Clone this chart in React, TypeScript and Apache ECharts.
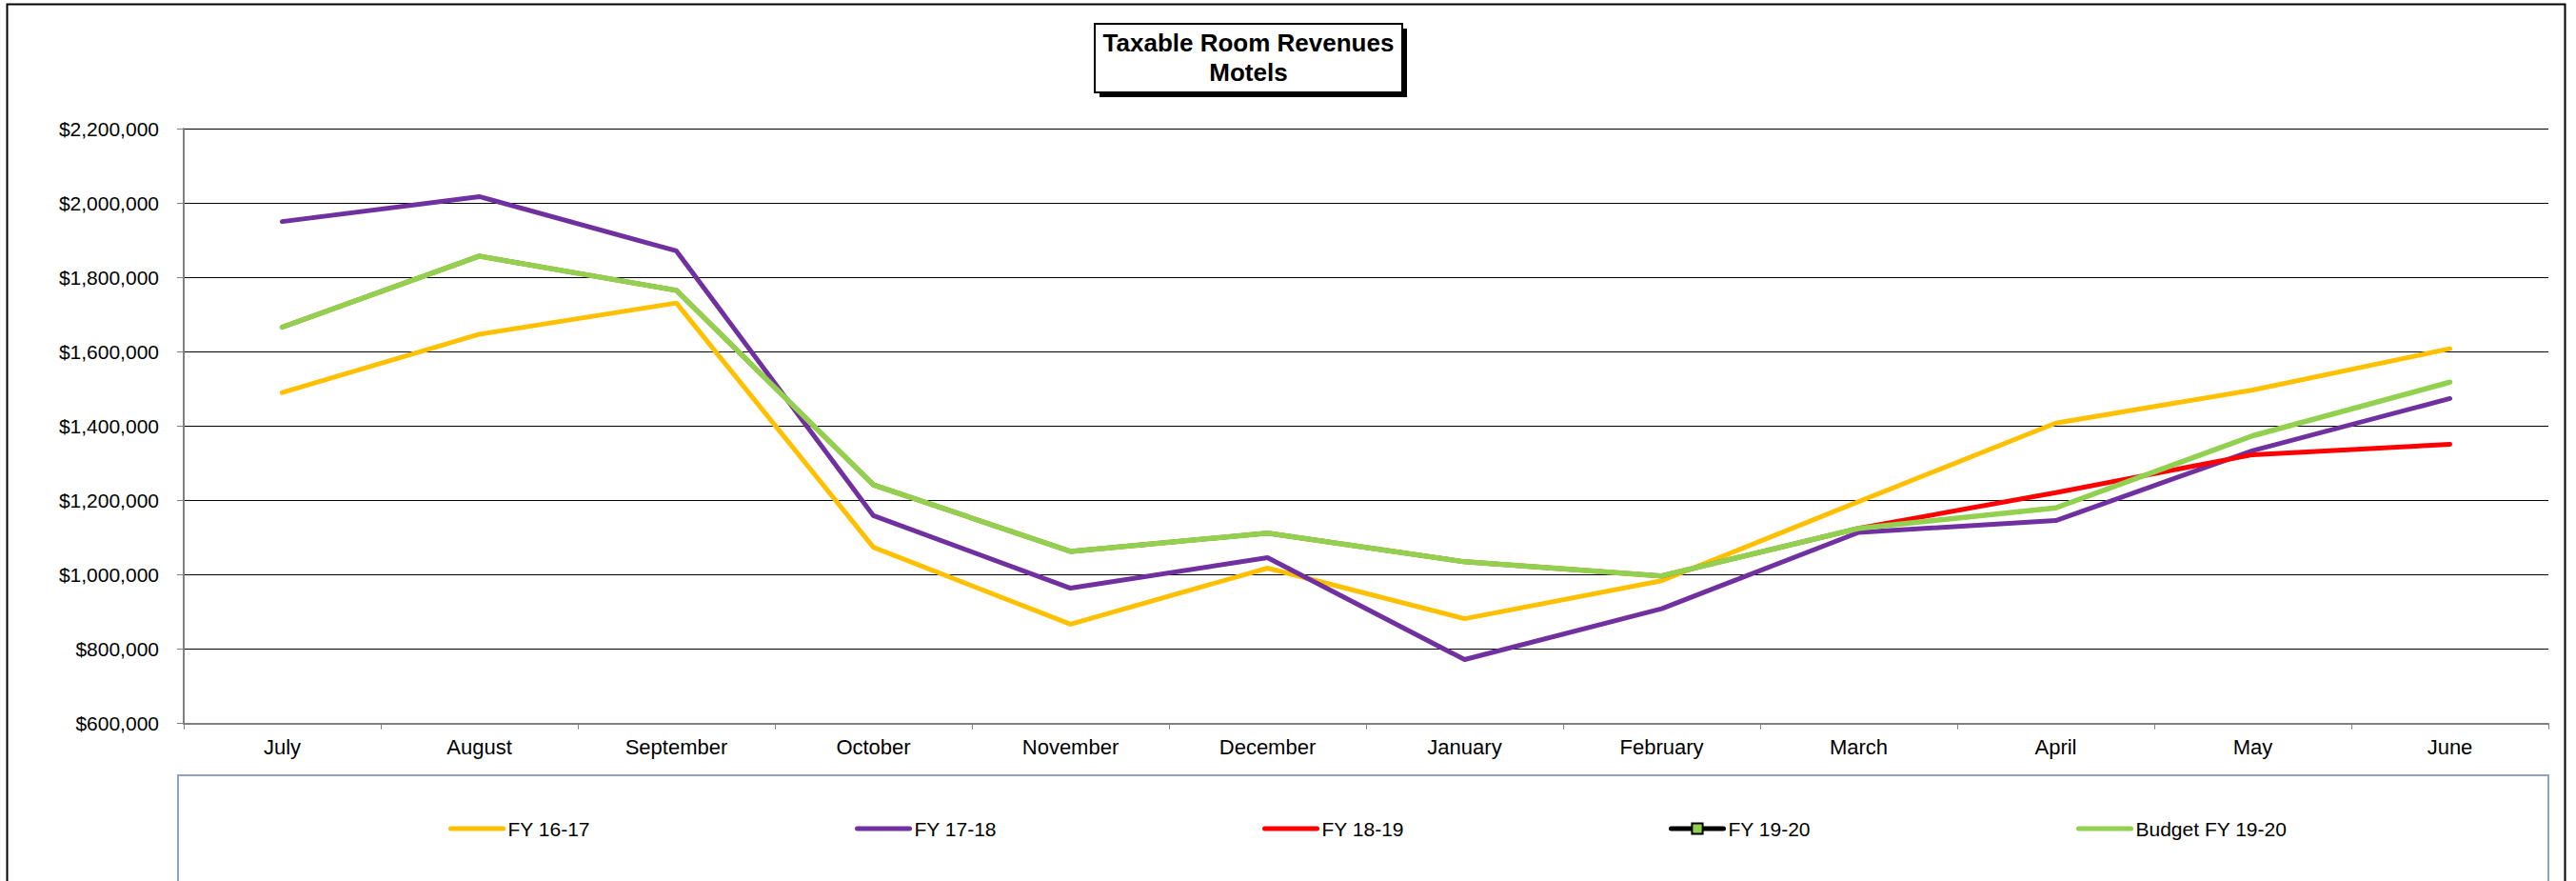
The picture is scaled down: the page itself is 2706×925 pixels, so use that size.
import React, { useEffect, useRef } from "react";
import * as echarts from "echarts";

const months = ["July", "August", "September", "October", "November", "December", "January", "February", "March", "April", "May", "June"];
const yTicks = [600000, 800000, 1000000, 1200000, 1400000, 1600000, 1800000, 2000000, 2200000];

const fy1617 = [1490000, 1647000, 1731000, 1074000, 867000, 1018000, 882000, 984000, 1197000, 1408000, 1497000, 1608000];
const fy1718 = [1950000, 2017000, 1871000, 1159000, 964000, 1046000, 772000, 909000, 1114000, 1146000, 1334000, 1474000];
const fy1819 = [1666000, 1857000, 1765000, 1242000, 1063000, 1112000, 1035000, 997000, 1125000, 1221000, 1323000, 1351000];
const fy1920: (number | null)[] = [null, null, null, null, null, null, null, null, null, null, null, null];
const budget1920 = [1666000, 1857000, 1765000, 1242000, 1063000, 1112000, 1035000, 997000, 1125000, 1180000, 1374000, 1518000];

const seriesNames = ["FY 16-17", "FY 17-18", "FY 18-19", "FY 19-20", "Budget FY 19-20"];
const seriesColors = ["#FFC000", "#7030A0", "#FF0000", "#000000", "#92D050"];
const seriesData = [fy1617, fy1718, fy1819, fy1920, budget1920];
const legendLefts = [471, 898, 1326, 1753, 2181];

const FONT = "'Liberation Sans', Arial, sans-serif";

export default function App() {
  const ref = useRef<HTMLDivElement>(null);

  useEffect(() => {
    if (!ref.current) return;
    const chart = echarts.init(ref.current, null, { renderer: "svg" });

    const series = seriesNames.map((name, i) => {
      const isMarker = name === "FY 19-20";
      return {
        name,
        type: "line",
        data: seriesData[i],
        symbol: isMarker ? "rect" : "none",
        symbolSize: 11,
        showSymbol: isMarker,
        itemStyle: isMarker
          ? { color: "#92D050", borderColor: "#000", borderWidth: 2 }
          : { color: seriesColors[i] },
        lineStyle: { color: seriesColors[i], width: i === 4 ? 5.5 : 5, cap: "round" },
        z: 2 + i,
      };
    });

    const legends = seriesNames.map((name, i) => ({
      data: [name],
      left: legendLefts[i],
      top: 858,
      orient: "horizontal",
      padding: 0,
      itemWidth: 55,
      itemHeight: 14,
      itemGap: 5,
      textStyle: { fontSize: 21, color: "#000", fontFamily: FONT, lineHeight: 24 },
      lineStyle: { width: 5, cap: "round" },
      itemStyle:
        name === "FY 19-20"
          ? { color: "#92D050", borderColor: "#000", borderWidth: 2 }
          : { opacity: 0, borderWidth: 0 },
      selectedMode: false,
    }));

    chart.setOption({
      animation: false,
      backgroundColor: "#fff",
      grid: { left: 193, right: 29, top: 135, bottom: 165.3, containLabel: false },
      legend: legends,
      xAxis: {
        type: "category",
        data: months,
        boundaryGap: true,
        axisLine: { show: true, lineStyle: { color: "#808080", width: 2 } },
        axisTick: { show: true, alignWithLabel: false, length: 6, lineStyle: { color: "#808080", width: 1 } },
        axisLabel: { interval: 0, fontSize: 22, color: "#000", fontFamily: FONT, margin: 14 },
        splitLine: { show: false },
      },
      yAxis: {
        type: "value",
        min: yTicks[0],
        max: yTicks[yTicks.length - 1],
        interval: yTicks[1] - yTicks[0],
        axisLine: { show: true, lineStyle: { color: "#808080", width: 2 } },
        axisTick: { show: true, length: 7, lineStyle: { color: "#808080", width: 1 } },
        axisLabel: {
          fontSize: 21,
          color: "#000",
          fontFamily: FONT,
          margin: 26,
          formatter: (v: number) => "$" + Math.round(v).toLocaleString("en-US"),
        },
        splitLine: { show: true, lineStyle: { color: "#000", width: 1 } },
      },
      graphic: [
        {
          type: "rect",
          shape: { x: 7.5, y: 4.5, width: 2687, height: 1000 },
          style: { fill: "none", stroke: "#000", lineWidth: 2 },
          silent: true,
          z: 0,
        },
        {
          type: "rect",
          shape: { x: 187, y: 814, width: 2490, height: 200 },
          style: { fill: "none", stroke: "#8EA2C0", lineWidth: 2 },
          silent: true,
          z: 0,
        },
        {
          type: "group",
          z: 100,
          children: [
            {
              type: "rect",
              shape: { x: 1155, y: 30, width: 323, height: 72 },
              style: { fill: "#000" },
            },
            {
              type: "rect",
              shape: { x: 1150, y: 25, width: 323, height: 72 },
              style: { fill: "#fff", stroke: "#000", lineWidth: 2 },
            },
            {
              type: "text",
              x: 1311.5,
              y: 45,
              style: {
                text: "Taxable Room Revenues",
                fontSize: 26,
                fontWeight: "bold",
                fontFamily: FONT,
                fill: "#000",
                align: "center",
                verticalAlign: "middle",
              },
            },
            {
              type: "text",
              x: 1311.5,
              y: 76,
              style: {
                text: "Motels",
                fontSize: 26,
                fontWeight: "bold",
                fontFamily: FONT,
                fill: "#000",
                align: "center",
                verticalAlign: "middle",
              },
            },
          ],
        },
      ],
      series,
    });

    return () => chart.dispose();
  }, []);

  return (
    <div
      ref={ref}
      style={{ position: "absolute", left: 0, top: 0, width: 2706, height: 925, background: "#fff" }}
    />
  );
}
